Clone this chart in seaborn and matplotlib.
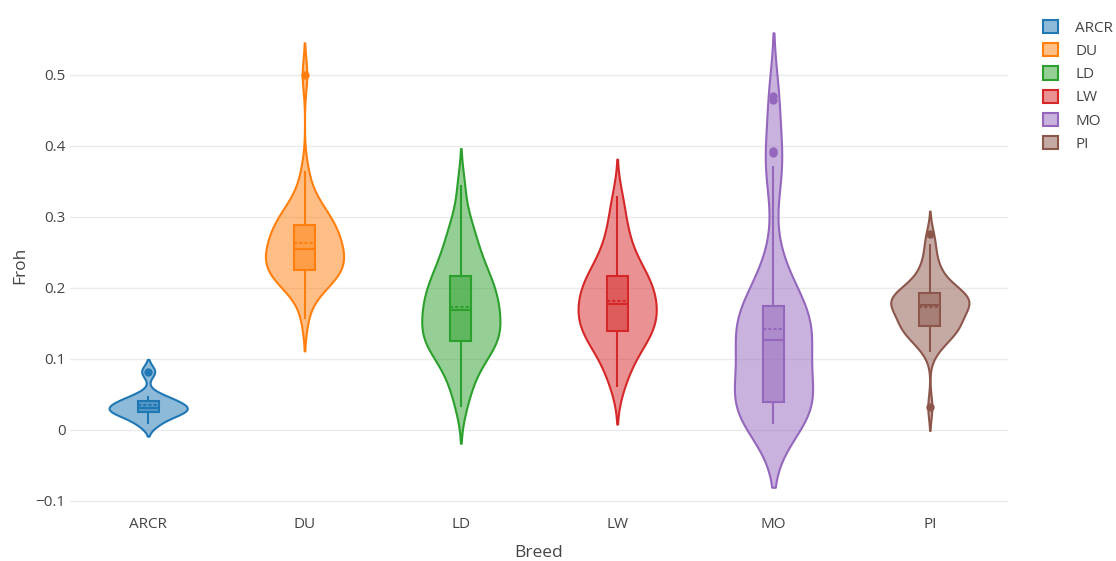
import matplotlib
matplotlib.use("Agg")
import matplotlib.pyplot as plt
import pandas as pd
import seaborn as sns
from matplotlib.colors import to_rgba
from matplotlib.patches import Patch

# Breeds and plotly default colours
BREEDS = ["ARCR", "DU", "LD", "LW", "MO", "PI"]
COLORS = ["#1f77b4", "#ff7f0e", "#2ca02c", "#d62728", "#9467bd", "#8c564b"]

arcr = [0.008, 0.018, 0.023, 0.026, 0.028, 0.031, 0.034, 0.038, 0.042, 0.048, 0.082]
du = [0.156, 0.188, 0.196, 0.203, 0.208, 0.212, 0.216, 0.219, 0.221, 0.223,
      0.226, 0.229, 0.232, 0.236, 0.239, 0.242, 0.246, 0.249, 0.252, 0.254,
      0.257, 0.261, 0.264, 0.268, 0.272, 0.276, 0.280, 0.284, 0.288, 0.290,
      0.294, 0.298, 0.303, 0.309, 0.316, 0.325, 0.336, 0.364, 0.500]
ld = [0.032, 0.055, 0.070, 0.082, 0.092, 0.100, 0.107, 0.113, 0.118, 0.122, 0.125,
      0.129, 0.133, 0.137, 0.141, 0.145, 0.150, 0.155, 0.160, 0.165, 0.169, 0.173,
      0.177, 0.181, 0.186, 0.191, 0.196, 0.201, 0.206, 0.211, 0.216, 0.222,
      0.229, 0.237, 0.245, 0.254, 0.264, 0.275, 0.288, 0.305, 0.345]
lw = [0.060, 0.078, 0.092, 0.103, 0.112, 0.119, 0.125, 0.130, 0.135, 0.139,
      0.143, 0.147, 0.151, 0.156, 0.160, 0.164, 0.168, 0.173, 0.177,
      0.181, 0.185, 0.189, 0.194, 0.199, 0.204, 0.209, 0.213, 0.216,
      0.222, 0.229, 0.237, 0.246, 0.257, 0.270, 0.285, 0.305, 0.329]
mo = [0.008, 0.011, 0.014, 0.017, 0.020, 0.023, 0.026, 0.029, 0.032, 0.035, 0.037, 0.039,
      0.046, 0.054, 0.062, 0.070, 0.078, 0.086, 0.094, 0.102, 0.110, 0.118, 0.126,
      0.130, 0.134, 0.139, 0.143, 0.147, 0.152, 0.156, 0.161, 0.165, 0.170, 0.174,
      0.183, 0.194, 0.207, 0.222, 0.245, 0.340, 0.371, 0.390, 0.393, 0.465, 0.470]
pi = [0.032,
      0.110, 0.118, 0.124, 0.129, 0.133, 0.136, 0.139, 0.141, 0.143, 0.145, 0.146,
      0.149, 0.152, 0.155, 0.158, 0.161, 0.164, 0.167, 0.170, 0.172, 0.174, 0.176,
      0.178, 0.179, 0.181, 0.182, 0.184, 0.185, 0.186, 0.188, 0.189, 0.191, 0.192,
      0.195, 0.199, 0.203, 0.207, 0.212, 0.218, 0.225, 0.234, 0.246, 0.261, 0.275]

# kernel bandwidth of each violin (Froh units), judged from how far it runs past the data
BANDWIDTH = [0.0085, 0.0225, 0.0255, 0.026, 0.0445, 0.0165]

Y_TICKS = [-0.1, 0, 0.1, 0.2, 0.3, 0.4, 0.5]
Y_TICK_LABELS = ["\u22120.1", "0", "0.1", "0.2", "0.3", "0.4", "0.5"]

values = [arcr, du, ld, lw, mo, pi]
df = pd.DataFrame({
    "Breed": [b for b, v in zip(BREEDS, values) for _ in v],
    "Froh": [x for v in values for x in v],
})

sns.set_style("white")
plt.rcParams["font.family"] = ["Open Sans", "DejaVu Sans"]
TEXT = "#444444"

fig = plt.figure(figsize=(11.16, 5.61), dpi=100)
ax = fig.add_axes([70 / 1116, 51 / 561, 938 / 1116, 490 / 561])

for breed, color, bw in zip(BREEDS, COLORS, BANDWIDTH):
    sub = df[df["Breed"] == breed]
    factor = bw / sub["Froh"].std()
    sns.violinplot(data=sub, x="Breed", y="Froh", order=BREEDS, color=color,
                   saturation=1, inner=None, density_norm="width", width=0.5,
                   cut=2, bw_method=factor, gridsize=250, linewidth=1.5,
                   linecolor=color, ax=ax)
    ax.collections[-1].set_facecolor(to_rgba(color, 0.5))
    ax.collections[-1].set_edgecolor(color)
    sns.boxplot(data=sub, x="Breed", y="Froh", order=BREEDS, color=color,
                saturation=1, width=0.135, whis=1.5, showcaps=False,
                linewidth=1.5, linecolor=color,
                boxprops=dict(facecolor=to_rgba(color, 0.5), edgecolor=color),
                medianprops=dict(color=color, lw=1.5),
                whiskerprops=dict(color=color, lw=1.5),
                showmeans=True, meanline=True,
                meanprops=dict(color=color, ls=(0, (1.5, 1)), lw=1.5),
                flierprops=dict(marker="o", markersize=5, markerfacecolor=color,
                                markeredgecolor=color),
                ax=ax)

ax.set_xlim(-0.5, 5.5)
ax.set_ylim(-0.113, 0.577)
ax.set_yticks(Y_TICKS)
ax.set_yticklabels(Y_TICK_LABELS)
ax.yaxis.grid(True, color="#ebebeb", lw=1)
ax.xaxis.grid(False)
ax.set_axisbelow(True)
sns.despine(ax=ax, left=True, bottom=True)
ax.tick_params(axis="both", length=0, labelsize=11, labelcolor=TEXT)
ax.tick_params(axis="y", pad=3)
ax.tick_params(axis="x", pad=5)

ax.set_xlabel("Breed", fontsize=12.5, color=TEXT)
ax.set_ylabel("Froh", fontsize=12.5, color=TEXT)
ax.xaxis.set_label_coords(0.5, -0.071)
ax.yaxis.set_label_coords(-0.045, 0.5)

handles = [Patch(facecolor=to_rgba(c, 0.5), edgecolor=c, lw=1.5, label=b)
           for b, c in zip(BREEDS, COLORS)]
fig.legend(handles=handles, loc="upper left", bbox_to_anchor=(1043 / 1116, 1 - 20 / 561),
           frameon=False, fontsize=11, labelcolor=TEXT, handlelength=1.0,
           handleheight=0.95, handletextpad=1.1, labelspacing=0.48,
           borderaxespad=0, borderpad=0)

fig.savefig("out.png", dpi=100)
